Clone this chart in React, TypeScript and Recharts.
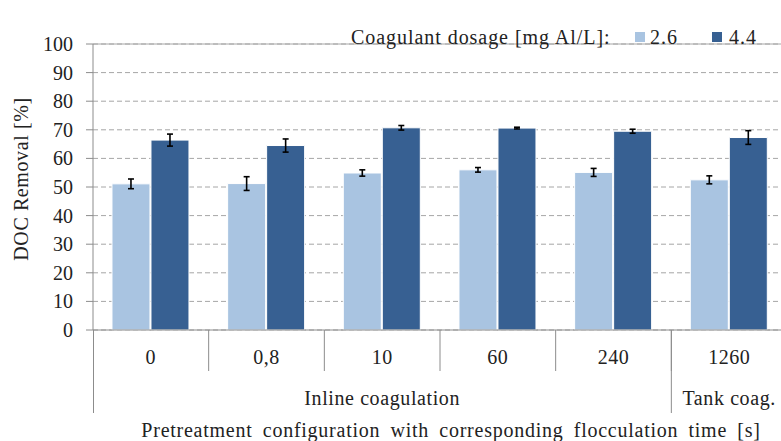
import React from "react";
import {
  BarChart,
  Bar,
  XAxis,
  YAxis,
  CartesianGrid,
  Legend,
  ErrorBar,
  ReferenceLine,
} from "recharts";

const categories = ["0", "0,8", "10", "60", "240", "1260"];
const dose26 = [51.1, 51.2, 54.9, 56.0, 55.1, 52.5];
const dose26Err = [1.7, 2.4, 1.1, 0.8, 1.4, 1.4];
const dose44 = [66.4, 64.5, 70.7, 70.6, 69.5, 67.3];
const dose44Err = [2.1, 2.3, 0.8, 0.3, 0.7, 2.4];
const yTicks = [0, 10, 20, 30, 40, 50, 60, 70, 80, 90, 100];
const groups = [
  { label: "Inline coagulation", span: 5 },
  { label: "Tank coag.", span: 1 },
];

const LIGHT = "#a9c4e1";
const DARK = "#376092";
const AXIS = "#8c8c8c";
const TXT = "#222";
const FONT = "'Liberation Serif', 'Times New Roman', serif";

const W = 800;
const H = 441;
const M = { top: 22, right: 13, left: 0, bottom: 0 };
const Y_W = 93;
const X_H = 111;
const plotLeft = M.left + Y_W;
const plotBottom = H - X_H;
const plotW = W - M.right - plotLeft;
const band = plotW / categories.length;

const data = categories.map((c, i) => ({
  cat: c,
  a: dose26[i],
  aErr: dose26Err[i],
  b: dose44[i],
  bErr: dose44Err[i],
}));

function CatTick(props: any) {
  const { x, payload, index } = props;
  const y = plotBottom;
  const right = x + band / 2;
  const left = x - band / 2;
  let groupEl = null;
  let start = 0;
  groups.forEach((g, gi) => {
    if (start === index) {
      const cx = left + (g.span * band) / 2;
      groupEl = (
        <g key={gi}>
          {index > 0 && <line x1={left} y1={y} x2={left} y2={y + 83} stroke={AXIS} />}
          <text
            x={cx}
            y={405}
            textAnchor="middle"
            fontSize={20}
            letterSpacing={0.6}
            fill={TXT}
            fontFamily={FONT}
          >
            {g.label}
          </text>
        </g>
      );
    }
    start += g.span;
  });
  return (
    <g>
      <text x={x} y={364} textAnchor="middle" fontSize={20} letterSpacing={0.5} fill={TXT} fontFamily={FONT}>
        {payload.value}
      </text>
      {index < categories.length - 1 && (
        <line x1={right} y1={y} x2={right} y2={y + 41} stroke={AXIS} />
      )}
      {groupEl}
    </g>
  );
}

function ValTick(props: any) {
  const { x, y, payload } = props;
  return (
    <text x={x} y={y + 7} textAnchor="end" fontSize={20} fill={TXT} fontFamily={FONT}>
      {payload.value}
    </text>
  );
}

function LegendBox() {
  const sq = (c: string) => (
    <span style={{ display: "inline-block", width: 10, height: 10, background: c, marginRight: 5 }} />
  );
  return (
    <div
      style={{
        fontFamily: FONT,
        fontSize: 20,
        letterSpacing: 0.95,
        color: TXT,
        display: "flex",
        alignItems: "center",
        whiteSpace: "nowrap",
        lineHeight: "22px",
      }}
    >
      <span style={{ width: 284 }}>Coagulant dosage [mg Al/L]:</span>
      {sq(LIGHT)}
      <span style={{ width: 62 }}>2.6</span>
      {sq(DARK)}
      <span style={{ marginLeft: 2 }}>4.4</span>
    </div>
  );
}

export default function App() {
  return (
    <div
      style={{
        position: "fixed",
        left: 0,
        top: 0,
        width: 781,
        height: 441,
        overflow: "hidden",
        background: "#fff",
      }}
    >
      <BarChart
        width={W}
        height={H}
        data={data}
        margin={M}
        barCategoryGap="16.4%"
        barGap={1}
        style={{ fontFamily: FONT }}
      >
        <CartesianGrid vertical={false} stroke="#a6a6a6" strokeDasharray="5 3" />
        <ReferenceLine y={100} stroke="#a6a6a6" />
        <XAxis
          dataKey="cat"
          height={X_H}
          interval={0}
          stroke={AXIS}
          tickLine={false}
          tick={<CatTick />}
          label={{
            value: "Pretreatment configuration with corresponding flocculation time [s]",
            content: () => (
              <text
                x={plotLeft + plotW / 2 + 11}
                y={437}
                textAnchor="middle"
                fontSize={20}
                letterSpacing={0.75}
                wordSpacing={4.5}
                fill={TXT}
                fontFamily={FONT}
              >
                Pretreatment configuration with corresponding flocculation time [s]
              </text>
            ),
          }}
        />
        <YAxis
          width={Y_W}
          domain={[0, 100]}
          ticks={yTicks}
          interval={0}
          stroke={AXIS}
          tickSize={7}
          tickMargin={13}
          tick={<ValTick />}
          label={{
            value: "DOC Removal [%]",
            content: () => (
              <text
                x={0}
                y={0}
                transform={`translate(28, 179) rotate(-90)`}
                textAnchor="middle"
                fontSize={20}
                letterSpacing={0.6}
                fill={TXT}
                fontFamily={FONT}
              >
                DOC Removal [%]
              </text>
            ),
          }}
        />
        <Legend
          verticalAlign="top"
          content={<LegendBox />}
          wrapperStyle={{ position: "absolute", left: 351, top: 26, width: 440 }}
        />
        <Bar dataKey="a" name="2.6" fill={LIGHT} stroke="#fff" strokeWidth={1} isAnimationActive={false}>
          <ErrorBar dataKey="aErr" width={3} stroke="#000" strokeWidth={1.6} direction="y" />
        </Bar>
        <Bar dataKey="b" name="4.4" fill={DARK} stroke="#fff" strokeWidth={1} isAnimationActive={false}>
          <ErrorBar dataKey="bErr" width={3} stroke="#000" strokeWidth={1.6} direction="y" />
        </Bar>
      </BarChart>
      <div
        style={{
          position: "absolute",
          left: plotLeft,
          top: plotBottom,
          width: 1,
          height: 83,
          background: AXIS,
        }}
      />
    </div>
  );
}
